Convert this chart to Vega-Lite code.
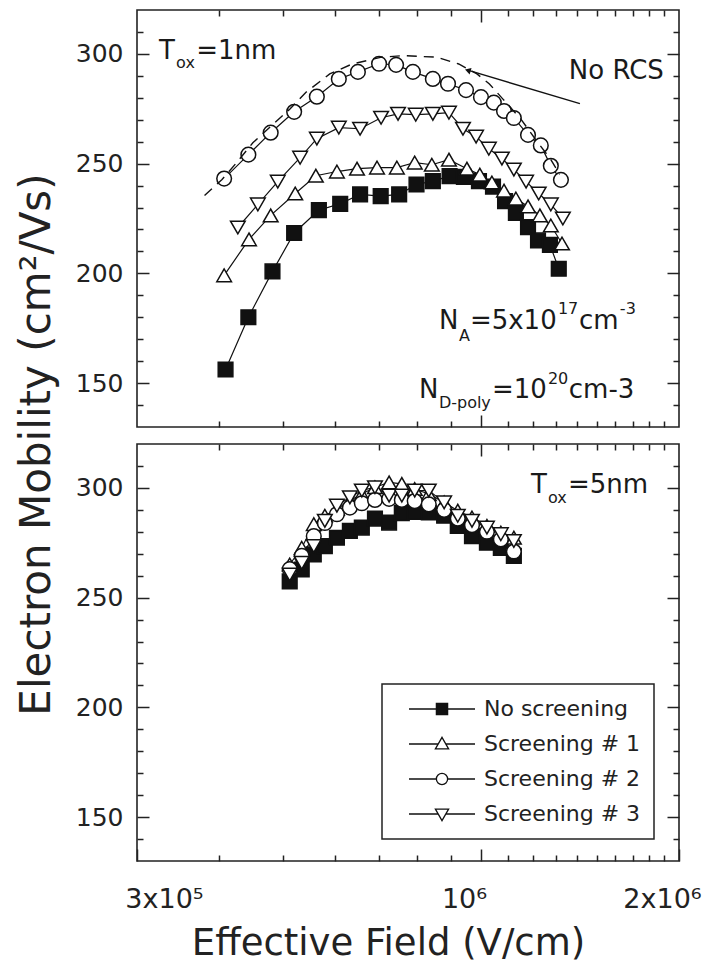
{
  "$schema": "https://vega.github.io/schema/vega-lite/v6.json",
  "autosize": {"type": "pad"},
  "padding": {"left": 14, "top": 8, "right": 0, "bottom": 0},
  "background": "white",
  "bounds": "flush",
  "spacing": 17,
  "config": {
    "font": "DejaVu Sans",
    "view": {"stroke": "#222", "strokeWidth": 1.6},
    "axis": {"grid": false, "domain": false, "tickColor": "#222", "tickWidth": 1.5, "labelFont": "DejaVu Sans", "labelColor": "#222", "labelFontSize": 25, "titleFont": "DejaVu Sans", "titleFontWeight": "normal", "titleColor": "#222"},
    "legend": {"strokeWidth": 1.5}
  },
  "datasets": {
    "top": [
      {"series": "No screening", "x": 409000, "y": 156.2}, {"series": "No screening", "x": 443000, "y": 180.0}, {"series": "No screening", "x": 482000, "y": 200.9}, {"series": "No screening", "x": 520000, "y": 218.4}, {"series": "No screening", "x": 567000, "y": 228.8}, {"series": "No screening", "x": 611000, "y": 231.7}, {"series": "No screening", "x": 655000, "y": 236.0}, {"series": "No screening", "x": 704000, "y": 235.2}, {"series": "No screening", "x": 751000, "y": 236.0}, {"series": "No screening", "x": 798000, "y": 240.5}, {"series": "No screening", "x": 845000, "y": 242.0}, {"series": "No screening", "x": 896000, "y": 244.3}, {"series": "No screening", "x": 942000, "y": 244.0}, {"series": "No screening", "x": 993000, "y": 242.0}, {"series": "No screening", "x": 1043000, "y": 239.5}, {"series": "No screening", "x": 1088000, "y": 232.9}, {"series": "No screening", "x": 1130000, "y": 227.5}, {"series": "No screening", "x": 1179000, "y": 221.1}, {"series": "No screening", "x": 1221000, "y": 215.0}, {"series": "No screening", "x": 1273000, "y": 213.0}, {"series": "No screening", "x": 1313000, "y": 202.1},
      {"series": "Screening # 1", "x": 407000, "y": 199.1}, {"series": "Screening # 1", "x": 444000, "y": 215.5}, {"series": "Screening # 1", "x": 479000, "y": 226.4}, {"series": "Screening # 1", "x": 522000, "y": 236.4}, {"series": "Screening # 1", "x": 561000, "y": 244.5}, {"series": "Screening # 1", "x": 604000, "y": 246.4}, {"series": "Screening # 1", "x": 648000, "y": 247.7}, {"series": "Screening # 1", "x": 695000, "y": 248.2}, {"series": "Screening # 1", "x": 745000, "y": 248.2}, {"series": "Screening # 1", "x": 793000, "y": 250.5}, {"series": "Screening # 1", "x": 842000, "y": 249.5}, {"series": "Screening # 1", "x": 894000, "y": 251.8}, {"series": "Screening # 1", "x": 952000, "y": 247.7}, {"series": "Screening # 1", "x": 996000, "y": 245.0}, {"series": "Screening # 1", "x": 1039000, "y": 241.4}, {"series": "Screening # 1", "x": 1084000, "y": 237.7}, {"series": "Screening # 1", "x": 1130000, "y": 234.1}, {"series": "Screening # 1", "x": 1179000, "y": 230.5}, {"series": "Screening # 1", "x": 1229000, "y": 226.4}, {"series": "Screening # 1", "x": 1277000, "y": 221.8}, {"series": "Screening # 1", "x": 1328000, "y": 213.6},
      {"series": "Screening # 2", "x": 407000, "y": 243.2}, {"series": "Screening # 2", "x": 443000, "y": 254.1}, {"series": "Screening # 2", "x": 479000, "y": 264.1}, {"series": "Screening # 2", "x": 520000, "y": 273.6}, {"series": "Screening # 2", "x": 563000, "y": 280.5}, {"series": "Screening # 2", "x": 608000, "y": 288.6}, {"series": "Screening # 2", "x": 650000, "y": 291.8}, {"series": "Screening # 2", "x": 700000, "y": 295.5}, {"series": "Screening # 2", "x": 743000, "y": 295.0}, {"series": "Screening # 2", "x": 788000, "y": 291.8}, {"series": "Screening # 2", "x": 845000, "y": 288.6}, {"series": "Screening # 2", "x": 891000, "y": 286.4}, {"series": "Screening # 2", "x": 949000, "y": 283.5}, {"series": "Screening # 2", "x": 1000000, "y": 280.3}, {"series": "Screening # 2", "x": 1046000, "y": 277.8}, {"series": "Screening # 2", "x": 1084000, "y": 274.0}, {"series": "Screening # 2", "x": 1122000, "y": 270.8}, {"series": "Screening # 2", "x": 1179000, "y": 263.1}, {"series": "Screening # 2", "x": 1233000, "y": 258.3}, {"series": "Screening # 2", "x": 1277000, "y": 249.0}, {"series": "Screening # 2", "x": 1323000, "y": 242.6},
      {"series": "Screening # 3", "x": 427000, "y": 220.9}, {"series": "Screening # 3", "x": 458000, "y": 231.4}, {"series": "Screening # 3", "x": 491000, "y": 241.8}, {"series": "Screening # 3", "x": 531000, "y": 252.7}, {"series": "Screening # 3", "x": 563000, "y": 261.4}, {"series": "Screening # 3", "x": 608000, "y": 266.4}, {"series": "Screening # 3", "x": 655000, "y": 265.9}, {"series": "Screening # 3", "x": 705000, "y": 270.9}, {"series": "Screening # 3", "x": 748000, "y": 272.7}, {"series": "Screening # 3", "x": 796000, "y": 272.3}, {"series": "Screening # 3", "x": 845000, "y": 272.7}, {"series": "Screening # 3", "x": 894000, "y": 273.2}, {"series": "Screening # 3", "x": 939000, "y": 265.9}, {"series": "Screening # 3", "x": 983000, "y": 262.3}, {"series": "Screening # 3", "x": 1028000, "y": 256.8}, {"series": "Screening # 3", "x": 1076000, "y": 252.3}, {"series": "Screening # 3", "x": 1122000, "y": 247.3}, {"series": "Screening # 3", "x": 1171000, "y": 241.8}, {"series": "Screening # 3", "x": 1224000, "y": 236.4}, {"series": "Screening # 3", "x": 1277000, "y": 231.4}, {"series": "Screening # 3", "x": 1332000, "y": 225.0}
    ],
    "bottom": [
      {"series": "No screening", "x": 512000, "y": 257.4}, {"series": "No screening", "x": 534000, "y": 262.8}, {"series": "No screening", "x": 557000, "y": 269.7}, {"series": "No screening", "x": 579000, "y": 273.5}, {"series": "No screening", "x": 604000, "y": 277.3}, {"series": "No screening", "x": 632000, "y": 280.4}, {"series": "No screening", "x": 659000, "y": 281.9}, {"series": "No screening", "x": 690000, "y": 286.0}, {"series": "No screening", "x": 725000, "y": 284.2}, {"series": "No screening", "x": 758000, "y": 288.5}, {"series": "No screening", "x": 793000, "y": 289.0}, {"series": "No screening", "x": 833000, "y": 288.8}, {"series": "No screening", "x": 879000, "y": 287.3}, {"series": "No screening", "x": 922000, "y": 282.7}, {"series": "No screening", "x": 969000, "y": 278.0}, {"series": "No screening", "x": 1021000, "y": 275.0}, {"series": "No screening", "x": 1072000, "y": 272.7}, {"series": "No screening", "x": 1122000, "y": 269.0},
      {"series": "Screening # 1", "x": 512000, "y": 265.1}, {"series": "Screening # 1", "x": 534000, "y": 272.7}, {"series": "Screening # 1", "x": 557000, "y": 283.5}, {"series": "Screening # 1", "x": 579000, "y": 287.3}, {"series": "Screening # 1", "x": 604000, "y": 290.4}, {"series": "Screening # 1", "x": 632000, "y": 294.2}, {"series": "Screening # 1", "x": 659000, "y": 297.2}, {"series": "Screening # 1", "x": 690000, "y": 300.3}, {"series": "Screening # 1", "x": 725000, "y": 302.5}, {"series": "Screening # 1", "x": 758000, "y": 301.8}, {"series": "Screening # 1", "x": 793000, "y": 299.5}, {"series": "Screening # 1", "x": 833000, "y": 297.2}, {"series": "Screening # 1", "x": 879000, "y": 293.4}, {"series": "Screening # 1", "x": 922000, "y": 289.6}, {"series": "Screening # 1", "x": 969000, "y": 286.5}, {"series": "Screening # 1", "x": 1021000, "y": 282.7}, {"series": "Screening # 1", "x": 1072000, "y": 279.6}, {"series": "Screening # 1", "x": 1122000, "y": 277.3},
      {"series": "Screening # 2", "x": 512000, "y": 263.0}, {"series": "Screening # 2", "x": 534000, "y": 269.0}, {"series": "Screening # 2", "x": 557000, "y": 278.0}, {"series": "Screening # 2", "x": 579000, "y": 284.0}, {"series": "Screening # 2", "x": 604000, "y": 288.0}, {"series": "Screening # 2", "x": 632000, "y": 291.0}, {"series": "Screening # 2", "x": 659000, "y": 293.0}, {"series": "Screening # 2", "x": 690000, "y": 294.5}, {"series": "Screening # 2", "x": 725000, "y": 295.0}, {"series": "Screening # 2", "x": 758000, "y": 294.5}, {"series": "Screening # 2", "x": 793000, "y": 294.0}, {"series": "Screening # 2", "x": 833000, "y": 292.5}, {"series": "Screening # 2", "x": 879000, "y": 290.0}, {"series": "Screening # 2", "x": 922000, "y": 286.0}, {"series": "Screening # 2", "x": 969000, "y": 283.0}, {"series": "Screening # 2", "x": 1021000, "y": 280.0}, {"series": "Screening # 2", "x": 1072000, "y": 276.5}, {"series": "Screening # 2", "x": 1122000, "y": 271.0},
      {"series": "Screening # 3", "x": 512000, "y": 260.5}, {"series": "Screening # 3", "x": 534000, "y": 265.9}, {"series": "Screening # 3", "x": 557000, "y": 273.5}, {"series": "Screening # 3", "x": 579000, "y": 285.0}, {"series": "Screening # 3", "x": 604000, "y": 291.9}, {"series": "Screening # 3", "x": 632000, "y": 295.7}, {"series": "Screening # 3", "x": 659000, "y": 298.8}, {"series": "Screening # 3", "x": 690000, "y": 300.3}, {"series": "Screening # 3", "x": 725000, "y": 296.5}, {"series": "Screening # 3", "x": 758000, "y": 296.5}, {"series": "Screening # 3", "x": 793000, "y": 298.8}, {"series": "Screening # 3", "x": 833000, "y": 298.8}, {"series": "Screening # 3", "x": 879000, "y": 293.4}, {"series": "Screening # 3", "x": 922000, "y": 287.3}, {"series": "Screening # 3", "x": 969000, "y": 285.0}, {"series": "Screening # 3", "x": 1021000, "y": 281.9}, {"series": "Screening # 3", "x": 1072000, "y": 278.9}, {"series": "Screening # 3", "x": 1122000, "y": 275.8}
    ],
    "norcs": [
      {"x": 380000, "y": 235.5}, {"x": 404000, "y": 242.8}, {"x": 425000, "y": 250.4}, {"x": 450000, "y": 259.5}, {"x": 480000, "y": 267.2}, {"x": 512000, "y": 274.8}, {"x": 542000, "y": 282.5}, {"x": 589000, "y": 290.9}, {"x": 637000, "y": 295.4}, {"x": 706000, "y": 298.5}, {"x": 762000, "y": 299.2}, {"x": 856000, "y": 298.5}, {"x": 925000, "y": 295.4}, {"x": 986000, "y": 290.9}, {"x": 1030000, "y": 286.3}, {"x": 1080000, "y": 279.4}, {"x": 1150000, "y": 270.3}, {"x": 1210000, "y": 261.1}, {"x": 1276000, "y": 252.0}, {"x": 1317000, "y": 245.1}
    ],
    "pointer": [{"x": 952000, "y": 292.7}, {"x": 1414000, "y": 277.3}],
    "arrow": [{"x": 955000, "y": 292.5}],
    "topBig": [
      {"t": "T", "x": 324000, "y": 297.7},
      {"t": "=1nm", "x": 369000, "y": 297.7},
      {"t": "No RCS", "x": 1360000, "y": 288.6},
      {"t": "N", "x": 863000, "y": 174.5},
      {"t": "=5x10", "x": 962000, "y": 174.5},
      {"t": "cm", "x": 1409000, "y": 174.5},
      {"t": "N", "x": 805000, "y": 143.2},
      {"t": "=10", "x": 1039000, "y": 143.2},
      {"t": "cm-3", "x": 1360000, "y": 143.2}
    ],
    "topSmall": [
      {"t": "ox", "x": 344000, "y": 293.6},
      {"t": "A", "x": 926000, "y": 169.1},
      {"t": "17", "x": 1309000, "y": 181.4},
      {"t": "-3", "x": 1626000, "y": 181.4},
      {"t": "D-poly", "x": 863000, "y": 138.6},
      {"t": "20", "x": 1264000, "y": 149.5}
    ],
    "botBig": [
      {"t": "T", "x": 1191000, "y": 297.6},
      {"t": "=5nm", "x": 1356000, "y": 297.6}
    ],
    "botSmall": [
      {"t": "ox", "x": 1264000, "y": 293.0}
    ]
  },
  "resolve": {"scale": {"shape": "independent", "fill": "independent", "stroke": "independent"}, "legend": {"shape": "independent", "fill": "independent", "stroke": "independent"}},
  "vconcat": [
    {
      "width": 542,
      "height": 417,
      "resolve": {"axis": {"x": "independent", "y": "independent"}},
      "layer": [
        {
          "data": {"name": "top"},
          "mark": {"type": "line", "color": "#111", "strokeWidth": 1.2},
          "encoding": {
            "x": {"field": "x", "type": "quantitative", "scale": {"type": "log", "domain": [300000, 2000000], "nice": false}, "axis": {"orient": "bottom", "values": [1000000], "tickSize": -12, "labels": false, "title": null}},
            "y": {"field": "y", "type": "quantitative", "scale": {"domain": [130, 320], "nice": false, "zero": false}, "axis": {"orient": "left", "values": [150, 200, 250, 300], "tickSize": -12, "labelPadding": 26, "title": "Electron Mobility (cm²/Vs)", "titleFontSize": 42, "titleX": -88, "titleY": 434, "titleAngle": -90, "titleAlign": "center", "titleBaseline": "alphabetic"}},
            "detail": {"field": "series"}
          }
        },
        {
          "data": {"name": "top"},
          "mark": {"type": "point", "filled": true, "stroke": "#111", "strokeWidth": 1.5, "size": 215, "opacity": 1},
          "encoding": {
            "x": {"field": "x", "type": "quantitative", "axis": {"orient": "bottom", "values": [400000, 500000, 600000, 700000, 800000, 900000, 1100000, 1200000, 1300000, 1400000, 1500000, 1600000, 1700000, 1800000, 1900000], "tickSize": -6, "labels": false, "title": null}},
            "y": {"field": "y", "type": "quantitative", "axis": {"orient": "left", "values": [140, 160, 170, 180, 190, 210, 220, 230, 240, 260, 270, 280, 290, 310], "tickSize": -6, "labels": false, "title": null}},
            "shape": {"field": "series", "scale": {"domain": ["No screening", "Screening # 1", "Screening # 2", "Screening # 3"], "range": ["square", "triangle-up", "circle", "triangle-down"]}, "legend": null},
            "fill": {"field": "series", "scale": {"domain": ["No screening", "Screening # 1", "Screening # 2", "Screening # 3"], "range": ["#111", "white", "white", "white"]}, "legend": null}
          }
        },
        {
          "data": {"name": "norcs"},
          "mark": {"type": "line", "color": "#111", "strokeWidth": 1.4, "strokeDash": [10, 7]},
          "encoding": {
            "x": {"field": "x", "type": "quantitative", "axis": {"orient": "top", "values": [1000000], "tickSize": -12, "labels": false, "title": null}},
            "y": {"field": "y", "type": "quantitative", "axis": {"orient": "right", "values": [150, 200, 250, 300], "tickSize": -12, "labels": false, "title": null}}
          }
        },
        {
          "data": {"name": "pointer"},
          "mark": {"type": "line", "color": "#111", "strokeWidth": 1.3},
          "encoding": {
            "x": {"field": "x", "type": "quantitative", "axis": {"orient": "top", "values": [400000, 500000, 600000, 700000, 800000, 900000, 1100000, 1200000, 1300000, 1400000, 1500000, 1600000, 1700000, 1800000, 1900000], "tickSize": -6, "labels": false, "title": null}},
            "y": {"field": "y", "type": "quantitative", "axis": {"orient": "right", "values": [140, 160, 170, 180, 190, 210, 220, 230, 240, 260, 270, 280, 290, 310], "tickSize": -6, "labels": false, "title": null}}
          }
        },
        {
          "data": {"name": "arrow"},
          "mark": {"type": "point", "shape": "triangle-left", "filled": true, "color": "#111", "size": 45, "angle": 17, "opacity": 1},
          "encoding": {
            "x": {"field": "x", "type": "quantitative", "axis": null},
            "y": {"field": "y", "type": "quantitative", "axis": null}
          }
        },
        {
          "data": {"name": "topBig"},
          "mark": {"type": "text", "align": "left", "baseline": "alphabetic", "font": "DejaVu Sans", "fontSize": 26, "color": "#1a1a1a"},
          "encoding": {
            "x": {"field": "x", "type": "quantitative", "axis": null},
            "y": {"field": "y", "type": "quantitative", "axis": null},
            "text": {"field": "t"}
          }
        },
        {
          "data": {"name": "topSmall"},
          "mark": {"type": "text", "align": "left", "baseline": "alphabetic", "font": "DejaVu Sans", "fontSize": 16, "color": "#1a1a1a"},
          "encoding": {
            "x": {"field": "x", "type": "quantitative", "axis": null},
            "y": {"field": "y", "type": "quantitative", "axis": null},
            "text": {"field": "t"}
          }
        }
      ]
    },
    {
      "width": 542,
      "height": 417,
      "resolve": {"axis": {"x": "independent", "y": "independent"}, "scale": {"shape": "independent", "fill": "independent", "stroke": "independent"}, "legend": {"shape": "independent", "fill": "independent", "stroke": "independent"}},
      "layer": [
        {
          "data": {"name": "bottom"},
          "mark": {"type": "line", "color": "#111", "strokeWidth": 1.2},
          "encoding": {
            "x": {"field": "x", "type": "quantitative", "scale": {"type": "log", "domain": [300000, 2000000], "nice": false}, "axis": {"orient": "bottom", "values": [300000, 1000000, 2000000], "tickSize": -12, "labelFontSize": 27, "labelBaseline": "alphabetic", "labelPadding": 58, "labelFlush": false, "labelExpr": "datum.value < 500000 ? '3x10⁵' : (datum.value < 1500000 ? '10⁶' : '2x10⁶')", "labelOffset": {"condition": {"test": "datum.value < 500000", "value": 27}, "value": -17}, "title": "Effective Field (V/cm)", "titleFontSize": 37, "titleX": 251, "titleY": 93, "titleAlign": "center", "titleBaseline": "alphabetic"}},
            "y": {"field": "y", "type": "quantitative", "scale": {"domain": [130, 320], "nice": false, "zero": false}, "axis": {"orient": "left", "values": [150, 200, 250, 300], "tickSize": -12, "labelPadding": 26, "title": null}},
            "detail": {"field": "series"}
          }
        },
        {
          "data": {"name": "bottom"},
          "mark": {"type": "point", "filled": true, "stroke": "#111", "strokeWidth": 1.5, "size": 215, "opacity": 1},
          "encoding": {
            "x": {"field": "x", "type": "quantitative", "axis": {"orient": "bottom", "values": [400000, 500000, 600000, 700000, 800000, 900000, 1100000, 1200000, 1300000, 1400000, 1500000, 1600000, 1700000, 1800000, 1900000], "tickSize": -6, "labels": false, "title": null}},
            "y": {"field": "y", "type": "quantitative", "axis": {"orient": "left", "values": [140, 160, 170, 180, 190, 210, 220, 230, 240, 260, 270, 280, 290, 310], "tickSize": -6, "labels": false, "title": null}},
            "shape": {"field": "series", "scale": {"domain": ["No screening", "Screening # 1", "Screening # 2", "Screening # 3"], "range": ["square", "triangle-up", "circle", "triangle-down"]}, "legend": null},
            "fill": {"field": "series", "scale": {"domain": ["No screening", "Screening # 1", "Screening # 2", "Screening # 3"], "range": ["#111", "white", "white", "white"]}, "legend": null}
          }
        },
        {
          "data": {"name": "bottom"},
          "transform": [{"filter": "false"}],
          "mark": {"type": "point", "filled": true, "strokeWidth": 1.3, "size": 4356, "opacity": 1},
          "encoding": {
            "x": {"field": "x", "type": "quantitative", "axis": {"orient": "top", "values": [1000000], "tickSize": -12, "labels": false, "title": null}},
            "y": {"field": "y", "type": "quantitative", "axis": {"orient": "right", "values": [150, 200, 250, 300], "tickSize": -12, "labels": false, "title": null}},
            "shape": {"field": "series", "scale": {"domain": ["No screening", "Screening # 1", "Screening # 2", "Screening # 3"], "range": ["M-1,0H-0.18M0.18,0H1M-0.17,-0.17H0.17V0.17H-0.17Z", "M-1,0H-0.12M0.12,0H1M0,-0.2L0.2,0.15H-0.2Z", "M-1,0H-0.17M0.17,0H1M0.17,0A0.17,0.17,0,1,1,-0.17,0A0.17,0.17,0,1,1,0.17,0Z", "M-1,0H-0.12M0.12,0H1M0,0.2L0.2,-0.15H-0.2Z"]}, "legend": {"title": null, "orient": "none", "legendX": 245, "legendY": 240, "padding": 13, "symbolOffset": 13, "labelOffset": 8, "clipHeight": 24, "rowPadding": 11, "labelFontSize": 22, "labelFont": "DejaVu Sans", "labelColor": "#222", "labelLimit": 300, "strokeColor": "#222", "fillColor": "white", "symbolStrokeColor": "#111", "symbolStrokeWidth": 1.3, "symbolSize": 4356}},
            "fill": {"field": "series", "scale": {"domain": ["No screening", "Screening # 1", "Screening # 2", "Screening # 3"], "range": ["#111", "white", "white", "white"]}, "legend": {"title": null, "orient": "none", "legendX": 245, "legendY": 240, "padding": 13, "symbolOffset": 13, "labelOffset": 8, "clipHeight": 24, "rowPadding": 11, "labelFontSize": 22, "labelFont": "DejaVu Sans", "labelColor": "#222", "labelLimit": 300, "strokeColor": "#222", "fillColor": "white", "symbolStrokeColor": "#111", "symbolStrokeWidth": 1.3, "symbolSize": 4356}},
            "stroke": {"field": "series", "scale": {"domain": ["No screening", "Screening # 1", "Screening # 2", "Screening # 3"], "range": ["#111", "#111", "#111", "#111"]}, "legend": {"title": null, "orient": "none", "legendX": 245, "legendY": 240, "padding": 13, "symbolOffset": 13, "labelOffset": 8, "clipHeight": 24, "rowPadding": 11, "labelFontSize": 22, "labelFont": "DejaVu Sans", "labelColor": "#222", "labelLimit": 300, "strokeColor": "#222", "fillColor": "white", "symbolStrokeColor": "#111", "symbolStrokeWidth": 1.3, "symbolSize": 4356}}
          }
        },
        {
          "data": {"name": "botBig"},
          "mark": {"type": "text", "align": "left", "baseline": "alphabetic", "font": "DejaVu Sans", "fontSize": 26, "color": "#1a1a1a"},
          "encoding": {
            "x": {"field": "x", "type": "quantitative", "axis": {"orient": "top", "values": [400000, 500000, 600000, 700000, 800000, 900000, 1100000, 1200000, 1300000, 1400000, 1500000, 1600000, 1700000, 1800000, 1900000], "tickSize": -6, "labels": false, "title": null}},
            "y": {"field": "y", "type": "quantitative", "axis": {"orient": "right", "values": [140, 160, 170, 180, 190, 210, 220, 230, 240, 260, 270, 280, 290, 310], "tickSize": -6, "labels": false, "title": null}},
            "text": {"field": "t"}
          }
        },
        {
          "data": {"name": "botSmall"},
          "mark": {"type": "text", "align": "left", "baseline": "alphabetic", "font": "DejaVu Sans", "fontSize": 16, "color": "#1a1a1a"},
          "encoding": {
            "x": {"field": "x", "type": "quantitative", "axis": null},
            "y": {"field": "y", "type": "quantitative", "axis": null},
            "text": {"field": "t"}
          }
        }
      ]
    }
  ]
}
